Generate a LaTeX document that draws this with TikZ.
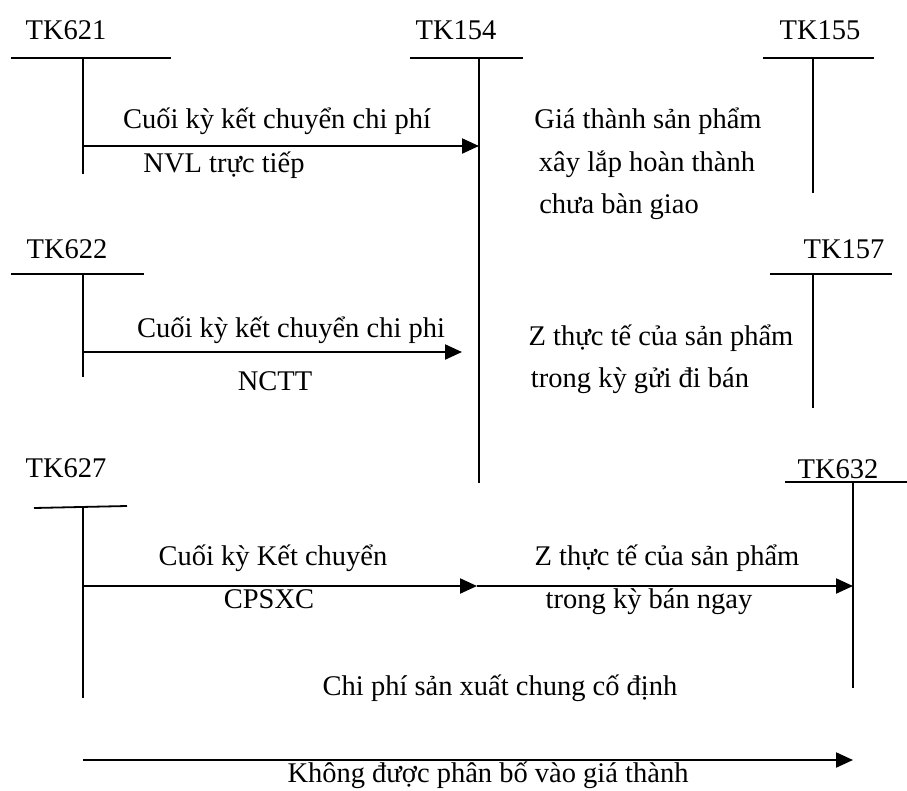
\documentclass[tikz,border=0pt]{standalone}
\usepackage{fontspec}
\setmainfont{Liberation Serif}
\usetikzlibrary{arrows.meta}
\begin{document}
\begin{tikzpicture}[x=1pt,y=-1pt,
  acct/.style={line width=1.8pt},
  flow/.style={line width=2.2pt,-{Triangle[length=17pt,width=15pt]}},
  lbl/.style={inner sep=0pt,anchor=base,font=\fontsize{28.5}{34}\selectfont},
]
\useasboundingbox (0,0) rectangle (907,790);

% T-accounts: title, top rule, vertical stem
\node[lbl] (t621) at (66,39) {TK621};
\draw[acct] (11,58) -- (171,58);
\draw[acct] (83,58) coordinate (s621) -- (83,174);

\node[lbl] (t154) at (456,39) {TK154};
\draw[acct] (410,58) -- (523,58);
\draw[acct] (479,58) coordinate (s154) -- (479,483);

\node[lbl] (t155) at (820,39) {TK155};
\draw[acct] (763,58) -- (874,58);
\draw[acct] (813,58) -- (813,193);

\node[lbl] (t622) at (67,258) {TK622};
\draw[acct] (11,274) -- (144,274);
\draw[acct] (83,274) -- (83,377);

\node[lbl] (t157) at (844,258) {TK157};
\draw[acct] (770,274) -- (892,274);
\draw[acct] (813,274) -- (813,408);

\node[lbl] (t627) at (66,477) {TK627};
\draw[acct] (34,508) -- (127,506);
\draw[acct] (83,507) -- (83,698);

\node[lbl] (t632) at (838,478) {TK632};
\draw[acct] (785,482) -- (907,482);
\draw[acct] (853,482) -- (853,688);

% connection points on the stems
\coordinate (a621) at (83,146);
\coordinate (a154) at (479,146);
\coordinate (a622) at (83,352);
\coordinate (b154) at (462,352);
\coordinate (a627) at (83,586);
\coordinate (c154) at (477,586);
\coordinate (a632) at (853,586);
\coordinate (d627) at (83,760);
\coordinate (d632) at (853,760);

% transfers
\draw[flow] (a621) -- (a154);
\draw[flow] (a622) -- (b154);
\draw[flow] (a627) -- (c154);
\draw[flow] (c154) -- (a632);
\draw[flow] (d627) -- (d632);

% labels
\node[lbl] (l1a) at (277,128) {Cuối kỳ kết chuyển chi phí};
\node[lbl] (l1b) at (224,172) {NVL trực tiếp};
\node[lbl] (l2a) at (648,128) {Giá thành sản phẩm};
\node[lbl] (l2b) at (647,171) {xây lắp hoàn thành};
\node[lbl] (l2c) at (619,213) {chưa bàn giao};
\node[lbl] (l3a) at (291,337) {Cuối kỳ kết chuyển chi phi};
\node[lbl] (l3b) at (275,390) {NCTT};
\node[lbl] (l4a) at (661,345) {Z thực tế của sản phẩm};
\node[lbl] (l4b) at (640,387) {trong kỳ gửi đi bán};
\node[lbl] (l5a) at (273,565) {Cuối kỳ Kết chuyển};
\node[lbl] (l5b) at (269,608) {CPSXC};
\node[lbl] (l6a) at (667,565) {Z thực tế của sản phẩm};
\node[lbl] (l6b) at (649,608) {trong kỳ bán ngay};
\node[lbl] (l7) at (500,695) {Chi phí sản xuất chung cố định};
\node[lbl] (l8) at (488,782) {Không được phân bố vào giá thành};
\end{tikzpicture}
\end{document}
